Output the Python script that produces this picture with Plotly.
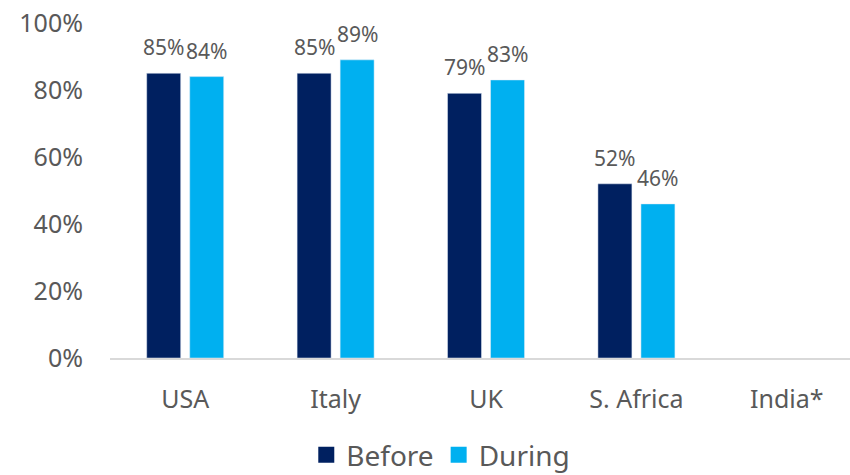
import plotly.graph_objects as go

categories = ["USA", "Italy", "UK", "S. Africa", "India*"]
before = [85, 85, 79, 52, None]
during = [84, 89, 83, 46, None]
y_ticks = [0, 20, 40, 60, 80, 100]
y_tick_labels = ["0%", "20%", "40%", "60%", "80%", "100%"]

FONT = "Noto Sans"
NAVY = "#002060"
BLUE = "#00B0F0"
GREY = "#595959"

fig = go.Figure()
for name, vals, col in [("Before", before, NAVY), ("During", during, BLUE)]:
    fig.add_trace(go.Bar(
        x=categories, y=vals, name=name, marker_color=col, showlegend=False,
    ))
for name, col in [("Before", NAVY), ("During", BLUE)]:
    fig.add_trace(go.Scatter(
        x=[None], y=[None], mode="markers", name=name,
        marker=dict(symbol="square", size=18, color=col),
    ))

# data labels above bars
for vals, shift in [(before, -21.5), (during, 21.5)]:
    for c, v in zip(categories, vals):
        if v is None:
            continue
        fig.add_annotation(
            x=c, y=v, text=f"{v}%", showarrow=False, xref="x", yref="y",
            xshift=shift, yshift=10, yanchor="bottom",
            font=dict(family=FONT, size=21, color=GREY),
        )

fig.update_layout(
    width=850, height=475,
    margin=dict(l=110, r=0, t=23, b=117, autoexpand=False),
    paper_bgcolor="white", plot_bgcolor="white",
    barmode="group", bargap=0.428, bargroupgap=0.21,
    font=dict(family=FONT, color=GREY),
    showlegend=True,
    legend=dict(orientation="h", x=0.447, xanchor="center", y=-0.215, yanchor="top",
                font=dict(family=FONT, size=28, color=GREY), itemwidth=30,
                itemsizing="trace", traceorder="normal"),
    xaxis=dict(range=[-0.5, 4.42], showgrid=False, showline=True,
               linecolor="#D9D9D9", linewidth=1.5, ticks="",
               tickfont=dict(family=FONT, size=25, color=GREY), ticklabelstandoff=18),
    yaxis=dict(range=[0, 100], tickvals=y_ticks, ticktext=y_tick_labels,
               showgrid=False, zeroline=False, showline=False, ticks="",
               tickfont=dict(family=FONT, size=25, color=GREY), ticklabelstandoff=26),
)

fig.write_html("out.html")
